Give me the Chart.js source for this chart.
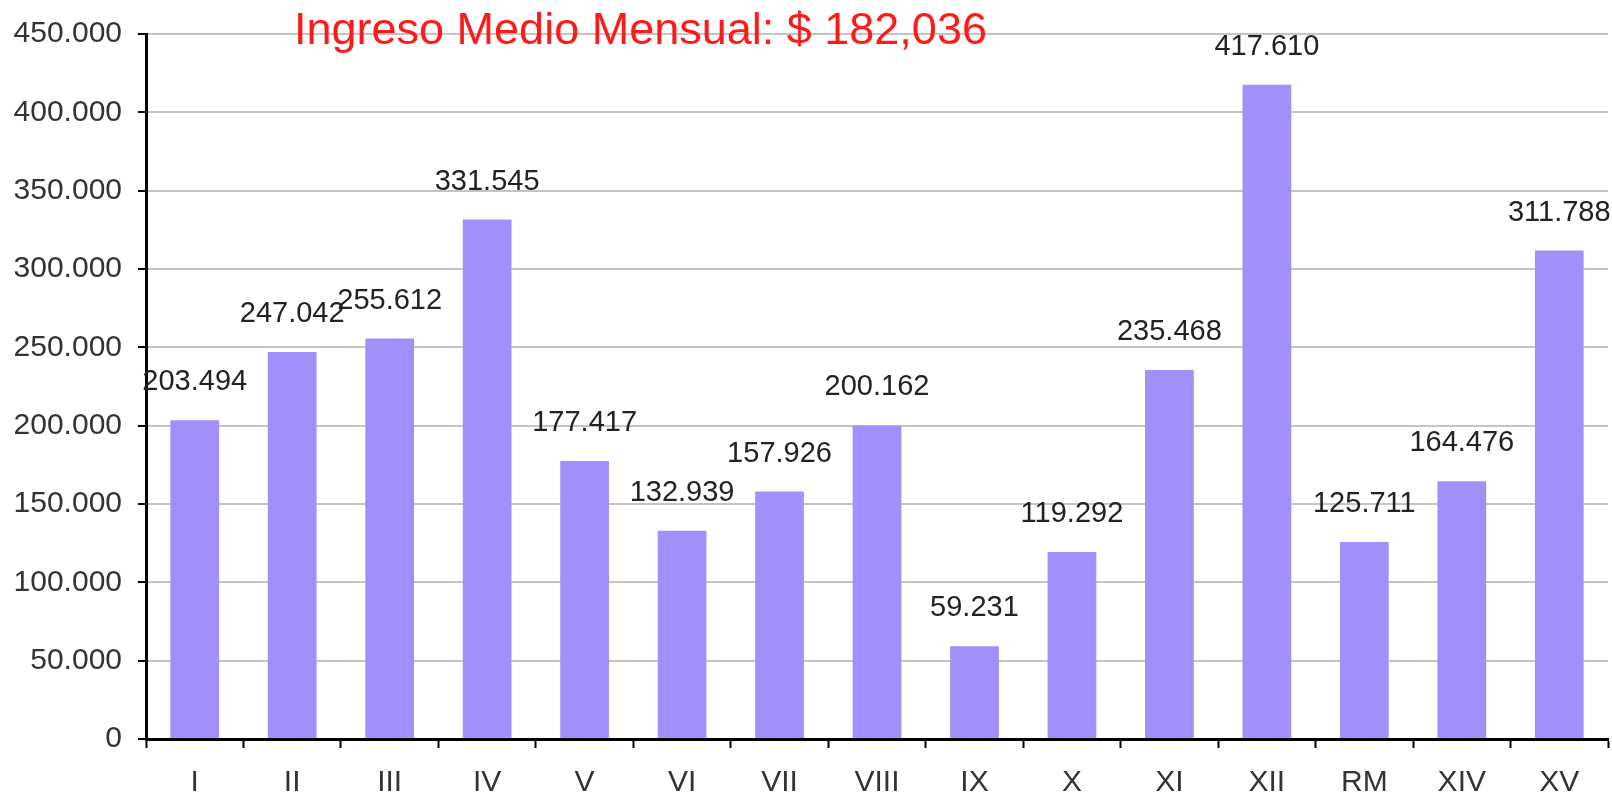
<!DOCTYPE html>
<html>
<head>
<meta charset="utf-8">
<script src="https://cdn.jsdelivr.net/npm/chart.js@4"></script>
<style>
  body { margin: 0; background: #fff; }
  #wrap { width: 1612px; height: 796px; }
</style>
</head>
<body>
<div id="wrap"><canvas id="main-chart" width="1612" height="796"></canvas></div>
<script>
// categories and values
const categories = ['I', 'II', 'III', 'IV', 'V', 'VI', 'VII', 'VIII', 'IX', 'X', 'XI', 'XII', 'RM', 'XIV', 'XV'];
const ingresos = [203494, 247042, 255612, 331545, 177417, 132939, 157926, 200162, 59231, 119292, 235468, 417610, 125711, 164476, 311788];
const yTicks = [0, 50000, 100000, 150000, 200000, 250000, 300000, 350000, 400000, 450000];
const titleText = 'Ingreso Medio Mensual: $ 182,036';

const FONT = '"Liberation Sans", Arial, sans-serif';

function fmt(v) {
  return String(v).replace(/\B(?=(\d{3})+(?!\d))/g, '.');
}

// value labels over the bars + the red title
const labelsPlugin = {
  id: 'labels',
  beforeDraw(chart) {
    const c = chart.ctx;
    c.save();
    c.fillStyle = '#ffffff';
    c.fillRect(0, 0, chart.width, chart.height);
    c.restore();
  },
  afterDatasetsDraw(chart) {
    const c = chart.ctx;
    const meta = chart.getDatasetMeta(0);
    c.save();
    c.font = '29px ' + FONT;
    c.fillStyle = '#222';
    c.textAlign = 'center';
    c.textBaseline = 'middle';
    meta.data.forEach((bar, i) => {
      c.fillText(fmt(ingresos[i]), bar.x, bar.y - 38);
    });
    c.font = '45px ' + FONT;
    c.fillStyle = '#ff1a1a';
    c.textAlign = 'left';
    c.fillText(titleText, 294, 32);
    c.restore();
  }
};

var ctx = document.getElementById('main-chart').getContext('2d');
new Chart(ctx, {
  type: 'bar',
  data: {
    labels: categories,
    datasets: [{
      data: ingresos,
      backgroundColor: '#a28ffa',
      borderWidth: 0,
      barPercentage: 0.5,
      categoryPercentage: 1.0
    }]
  },
  options: {
    responsive: false,
    animation: false,
    layout: { padding: { top: 32, right: 4, left: 0, bottom: 0 } },
    plugins: {
      legend: { display: false },
      tooltip: { enabled: false }
    },
    scales: {
      x: {
        afterFit(scale) { scale.height = 57; },
        grid: {
          drawOnChartArea: false,
          tickLength: 9,
          tickColor: '#000',
          tickWidth: 2
        },
        border: { color: '#000', width: 3 },
        ticks: {
          color: '#333',
          font: { family: FONT, size: 30 },
          padding: 17,
          maxRotation: 0
        }
      },
      y: {
        min: 0,
        max: 450000,
        afterFit(scale) { scale.width = 146; },
        afterBuildTicks(scale) {
          scale.ticks = yTicks.map(v => ({ value: v }));
        },
        grid: {
          color: '#c4c4c4',
          lineWidth: 2,
          tickLength: 8,
          tickColor: '#000',
          tickWidth: 2
        },
        border: { color: '#000', width: 3 },
        ticks: {
          color: '#333',
          font: { family: FONT, size: 30 },
          padding: 16,
          callback: (v) => fmt(v)
        }
      }
    }
  },
  plugins: [labelsPlugin]
});
</script>
</body>
</html>
